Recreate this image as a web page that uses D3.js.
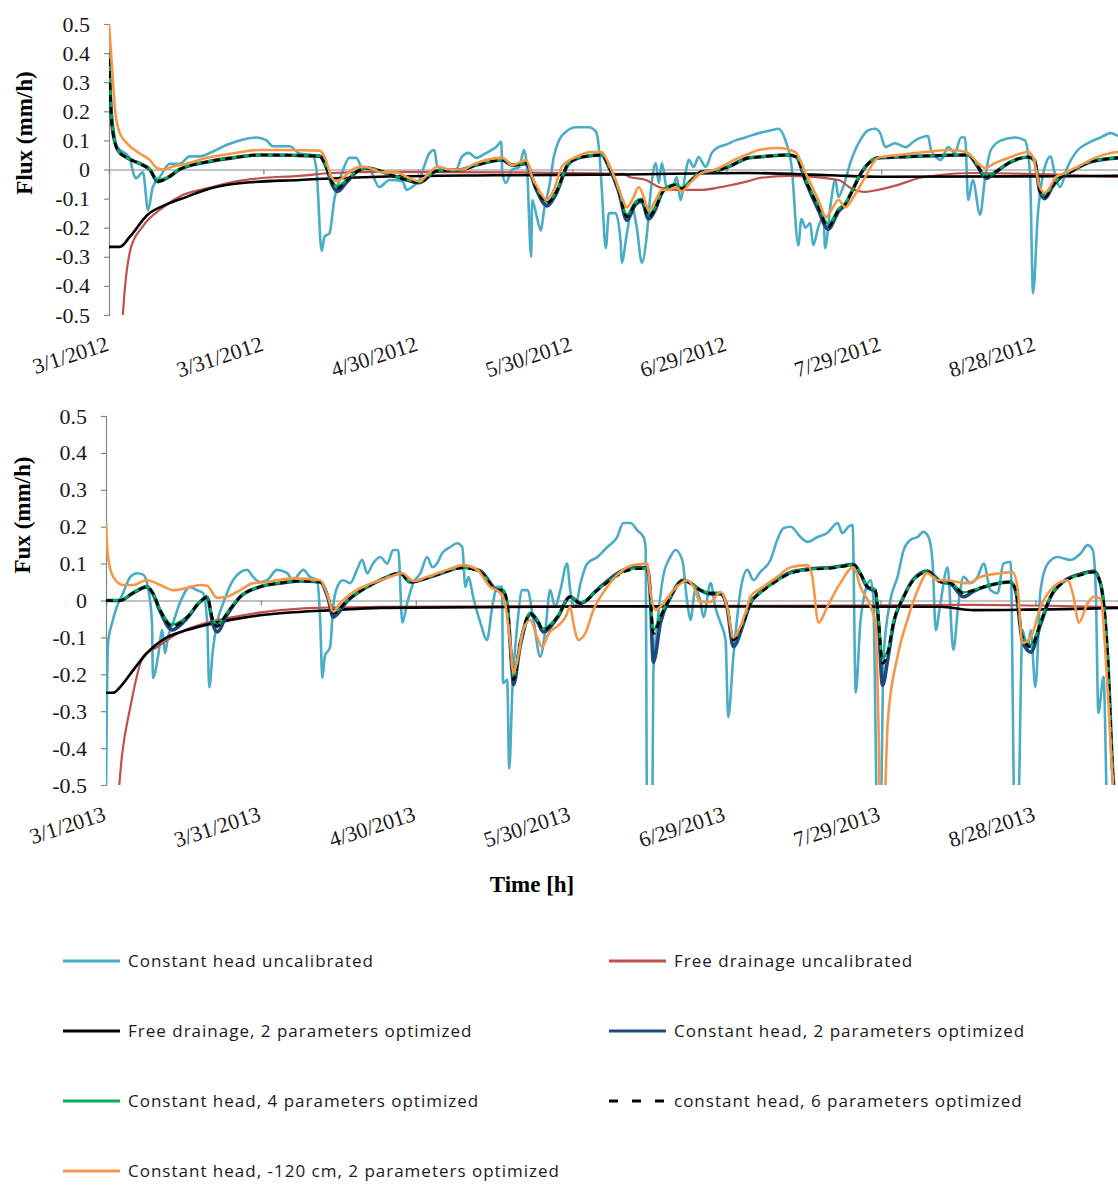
<!DOCTYPE html>
<html><head><meta charset="utf-8">
<script src="https://cdn.jsdelivr.net/npm/d3@7"></script>
<style>body{margin:0;background:#fff}svg{display:block}</style>
</head><body><svg id="c" width="1118" height="1185"></svg>
<script>
// ---------- DATA (day offset from 1 March, flux mm/h) ----------
const xTickDays = [0, 30, 60, 90, 120, 150, 180];
const xTickLabels2012 = ["3/1/2012","3/31/2012","4/30/2012","5/30/2012","6/29/2012","7/29/2012","8/28/2012"];
const xTickLabels2013 = ["3/1/2013","3/31/2013","4/30/2013","5/30/2013","6/29/2013","7/29/2013","8/28/2013"];
const yTickValues = [-0.5,-0.4,-0.3,-0.2,-0.1,0,0.1,0.2,0.3,0.4,0.5];
const yTickLabels = ["-0.5","-0.4","-0.3","-0.2","-0.1","0","0.1","0.2","0.3","0.4","0.5"];

const seriesNames = ["Constant head uncalibrated","Free drainage uncalibrated","Free drainage, 2 parameters optimized","Constant head, 2 parameters optimized","Constant head, 4 parameters optimized","constant head, 6 parameters optimized","Constant head, -120 cm, 2 parameters optimized"];

// ----- 2012 -----
const cyan2012 = [[0,0.30],[1.2,0.1],[1.5,0.08],[4,0.04],[4.7,-0.01],[5.2,-0.03],[6.6,-0.01],[7.6,-0.14],[8.5,-0.06],[9.9,-0.025],[11.8,0.02],[13.7,0.02],[15.7,0.045],[17.6,0.045],[20,0.06],[22.9,0.085],[25.4,0.1],[28.7,0.11],[30.6,0.1],[31.8,0.08],[35.1,0.08],[37,0.055],[39.5,0.05],[40.3,0],[41.3,-0.28],[41.9,-0.23],[42.8,-0.22],[43.8,-0.1],[45.3,-0.01],[46.7,0.04],[48,0.04],[49.2,0.005],[50.6,0],[52.5,-0.06],[54.5,-0.036],[57,-0.04],[57.8,-0.07],[58.9,-0.06],[60.3,-0.036],[61.2,0.01],[62.2,0.055],[63.2,0.067],[63.8,0.01],[65.1,0],[67.4,0],[68.6,0.045],[69.9,0.057],[71.3,0.04],[73.3,0.057],[75.2,0.077],[76.2,0.095],[76.4,-0.012],[77.1,-0.046],[78.3,0],[79.7,0.009],[80.6,0.067],[81.2,0.009],[82,-0.3],[82.2,-0.105],[83.1,-0.163],[83.9,-0.21],[84.5,-0.14],[85.5,-0.06],[86.4,0.043],[87.4,0.1],[88.8,0.13],[90.7,0.145],[93.2,0.145],[94.6,0.13],[95.2,0.067],[95.7,-0.06],[96.5,-0.27],[97.1,-0.15],[98.4,-0.15],[99.4,-0.25],[99.6,-0.32],[100.6,-0.22],[101.6,-0.13],[102.5,-0.197],[103.5,-0.32],[104.5,-0.22],[105.2,-0.08],[106.2,0.022],[106.8,-0.046],[107.4,0.022],[108.3,-0.06],[109.3,-0.07],[110.3,-0.026],[111,-0.105],[112,-0.012],[112.6,0.033],[113.6,0.009],[114.5,0.043],[115.9,0.009],[117.1,0.057],[118.4,0.077],[119.8,0.085],[121.7,0.1],[123.6,0.11],[126.2,0.125],[128.7,0.135],[130,0.14],[131.4,0.1],[132.6,0.01],[133.9,-0.26],[134.5,-0.17],[135.3,-0.2],[136.2,-0.184],[136.8,-0.26],[137.8,-0.197],[138.8,-0.163],[139.1,-0.27],[140.1,-0.13],[141.1,-0.035],[141.7,-0.095],[142.6,-0.06],[144.2,0.033],[145.9,0.1],[147.5,0.135],[148.8,0.14],[149.8,0.125],[150.8,0.077],[152.7,0.09],[154.7,0.077],[156.6,0.1],[159.1,0.115],[159.7,0.067],[161.6,0.033],[163,0.077],[164.3,0.057],[165.5,0.11],[166.3,0.11],[166.9,-0.105],[167.8,-0.036],[169.2,-0.155],[170.2,-0.026],[171.3,0.067],[173.3,0.1],[176,0.11],[177.9,0.1],[178.9,-0.012],[179.5,-0.425],[180.4,-0.163],[181.8,0.009],[182.9,0.045],[183.7,-0.012],[184.7,-0.06],[186.2,0.009],[188.2,0.067],[190.1,0.09],[192.6,0.11],[194.6,0.125],[196,0.115]];
const red2012 = [[2.5,-0.6],[2.7,-0.5],[4.3,-0.266],[6.5,-0.197],[10.5,-0.13],[14.3,-0.088],[19,-0.065],[24,-0.043],[29.3,-0.03],[37,-0.022],[43.4,-0.012],[52.5,-0.008],[80,-0.01],[100,-0.015],[101,-0.025],[104.3,-0.036],[106.8,-0.06],[110.1,-0.07],[115.1,-0.07],[119,-0.06],[124.2,-0.04],[126.2,-0.03],[132,-0.022],[141.7,-0.036],[144.2,-0.065],[146.9,-0.077],[149.4,-0.07],[153.3,-0.053],[157.2,-0.03],[161,-0.02],[167.4,-0.012],[196,-0.025]];
const black2012 = [[0,-0.266],[2.1,-0.266],[4.1,-0.23],[7.4,-0.157],[11.2,-0.12],[15.1,-0.094],[19.6,-0.065],[25.4,-0.047],[37,-0.036],[52.5,-0.025],[75,-0.02],[100,-0.017],[124,-0.012],[140,-0.02],[150,-0.025],[196,-0.022]];
const dashed2012 = [[0,0.38],[0.6,0.15],[1.7,0.067],[3.5,0.04],[6,0.02],[7.9,0],[9.5,-0.04],[11.2,-0.03],[13.7,0],[19,0.026],[24,0.04],[29.3,0.05],[40.9,0.046],[42.2,0.01],[43.4,-0.047],[44.4,-0.065],[46.1,-0.04],[48.1,-0.008],[50,0.005],[55.8,-0.025],[60.3,-0.045],[63.6,-0.005],[68.6,0],[71.3,0.015],[76.4,0.033],[78.3,0.015],[81,0.022],[82.9,-0.06],[85.1,-0.115],[86.8,-0.08],[89.3,0.022],[91.9,0.043],[95.7,0.05],[97.1,0.01],[99,-0.07],[100.6,-0.163],[102.3,-0.115],[103.5,-0.105],[104.8,-0.163],[106.2,-0.13],[107.4,-0.08],[108.7,-0.06],[110.1,-0.053],[111.2,-0.066],[113.2,-0.036],[115.1,-0.008],[117.8,-0.005],[120.3,0.009],[124.2,0.04],[126.2,0.043],[132,0.05],[133.5,0.043],[135.3,-0.036],[137.8,-0.13],[139.7,-0.197],[141.7,-0.14],[143,-0.12],[144.2,-0.08],[146.1,-0.012],[149.4,0.04],[153.3,0.043],[166.9,0.05],[168.8,0.01],[170.4,-0.026],[172.1,-0.01],[175.2,0.026],[178.5,0.043],[179.8,0.033],[180.8,-0.07],[181.8,-0.095],[183.3,-0.055],[184.9,-0.026],[186.8,-0.008],[190.6,0.026],[196,0.04]];
const blue2012 = [[0,0.37],[0.6,0.15],[1.7,0.067],[3.5,0.04],[6,0.02],[7.9,0],[9.5,-0.042],[11.2,-0.03],[13.7,0],[19,0.026],[24,0.04],[29.3,0.05],[40.9,0.046],[42.2,0.008],[43.4,-0.055],[44.4,-0.075],[46.1,-0.045],[48.1,-0.008],[50,0.005],[55.8,-0.025],[60.3,-0.045],[63.6,-0.005],[68.6,0],[71.3,0.015],[76.4,0.033],[78.3,0.015],[81,0.02],[82.9,-0.065],[85.1,-0.125],[86.8,-0.085],[89.3,0.02],[91.9,0.043],[95.7,0.05],[97.1,0.008],[99,-0.075],[100.6,-0.175],[102.3,-0.12],[103.5,-0.11],[104.8,-0.17],[106.2,-0.135],[107.4,-0.08],[108.7,-0.06],[110.1,-0.055],[111.2,-0.066],[113.2,-0.036],[115.1,-0.008],[117.8,-0.005],[120.3,0.009],[124.2,0.04],[126.2,0.043],[132,0.05],[133.5,0.043],[135.3,-0.04],[137.8,-0.14],[139.7,-0.205],[141.7,-0.145],[143,-0.12],[144.2,-0.08],[146.1,-0.012],[149.4,0.04],[153.3,0.043],[166.9,0.05],[168.8,0.008],[170.4,-0.03],[172.1,-0.01],[175.2,0.026],[178.5,0.043],[179.8,0.03],[180.8,-0.075],[181.8,-0.1],[183.3,-0.058],[184.9,-0.026],[186.8,-0.008],[190.6,0.026],[196,0.04]];
const green2012 = [[0,0.41],[0.6,0.16],[1.7,0.068],[3.5,0.04],[6,0.02],[7.9,0.002],[9.5,-0.036],[11.2,-0.028],[13.7,0.002],[19,0.027],[24,0.041],[29.3,0.05],[40.9,0.047],[42.2,0.012],[43.4,-0.042],[44.4,-0.058],[46.1,-0.036],[48.1,-0.006],[50,0.006],[55.8,-0.024],[60.3,-0.043],[63.6,-0.004],[68.6,0.001],[71.3,0.016],[76.4,0.034],[78.3,0.016],[81,0.023],[82.9,-0.055],[85.1,-0.108],[86.8,-0.076],[89.3,0.023],[91.9,0.044],[95.7,0.051],[97.1,0.012],[99,-0.065],[100.6,-0.155],[102.3,-0.11],[103.5,-0.1],[104.8,-0.155],[106.2,-0.125],[107.4,-0.078],[108.7,-0.058],[110.1,-0.05],[111.2,-0.063],[113.2,-0.034],[115.1,-0.006],[117.8,-0.004],[120.3,0.01],[124.2,0.041],[126.2,0.044],[132,0.051],[133.5,0.044],[135.3,-0.032],[137.8,-0.122],[139.7,-0.188],[141.7,-0.135],[143,-0.115],[144.2,-0.077],[146.1,-0.01],[149.4,0.041],[153.3,0.044],[166.9,0.051],[168.8,0.012],[170.4,-0.022],[172.1,-0.008],[175.2,0.027],[178.5,0.044],[179.8,0.035],[180.8,-0.065],[181.8,-0.088],[183.3,-0.052],[184.9,-0.024],[186.8,-0.006],[190.6,0.027],[196,0.041]];
const orange2012 = [[0,0.5],[0.6,0.35],[1.2,0.2],[2.1,0.125],[3.5,0.09],[6,0.055],[7.9,0.033],[9.3,0.005],[10.5,0],[12.4,0.01],[15.1,0.02],[19,0.04],[24,0.055],[29.3,0.067],[33.7,0.067],[40.9,0.065],[41.9,0.043],[43.2,-0.025],[44.2,-0.04],[45.3,-0.03],[47.3,0],[49.2,0.01],[50.6,0.005],[53.1,-0.01],[55.8,-0.01],[57.8,-0.025],[60.3,-0.04],[62.2,-0.012],[63.8,0.01],[66.1,0],[68.6,0],[71.3,0.022],[76.4,0.04],[78.3,0.015],[81,0.033],[82.2,-0.025],[83.5,-0.07],[85.1,-0.105],[86.4,-0.07],[88,0.01],[90.7,0.043],[93.8,0.06],[95.7,0.06],[96.7,0.033],[98.4,-0.036],[99.6,-0.095],[100.6,-0.13],[101.9,-0.095],[102.9,-0.06],[103.9,-0.095],[104.8,-0.14],[106.2,-0.105],[107.4,-0.07],[108.7,-0.07],[110.1,-0.06],[111.2,-0.075],[113.2,-0.04],[115.1,-0.012],[117.8,0],[120.3,0.022],[122.3,0.04],[124.2,0.053],[126.2,0.067],[130,0.074],[133.3,0.06],[135.3,-0.012],[137.8,-0.105],[139.3,-0.163],[140.3,-0.14],[141.7,-0.105],[143,-0.13],[144.6,-0.095],[146.9,-0.026],[149.4,0.04],[153.3,0.05],[158.5,0.06],[163.6,0.067],[166.5,0.06],[168.2,0.033],[170.2,0.005],[172.1,0.022],[175.2,0.043],[178.5,0.06],[179.5,0.043],[180.8,-0.06],[181.8,-0.08],[182.8,-0.06],[183.9,-0.026],[185.7,-0.012],[188.2,0.01],[191.5,0.04],[194.6,0.057],[196,0.06]];

// ----- 2013 -----
const cyan2013 = [[0,-0.5],[0.2,-0.24],[0.4,-0.115],[1.2,-0.06],[2.1,-0.017],[3.3,0.02],[4.7,0.064],[6,0.074],[7.2,0.07],[8.1,0.037],[8.9,-0.06],[9.1,-0.21],[10.1,-0.15],[10.9,-0.08],[11.4,-0.143],[12,-0.1],[13,-0.06],[14.3,-0.007],[16.3,0.037],[17.6,0.028],[18.8,0.02],[19.6,-0.06],[20,-0.235],[20.7,-0.134],[21.5,-0.06],[22.7,-0.007],[24.6,0.055],[27.3,0.083],[28.5,0.064],[29.8,0.05],[31.2,0.055],[33.1,0.083],[35.1,0.074],[36.2,0.055],[38.2,0.083],[39.5,0.064],[40.9,0.055],[41.5,-0.06],[41.9,-0.21],[42.4,-0.15],[43.4,-0.126],[44,-0.017],[44.8,0.037],[45.9,0.055],[47.3,0.047],[48.6,0.083],[49.6,0.11],[50.6,0.074],[51.7,0.1],[53.1,0.118],[54.5,0.1],[55.6,0.137],[56.6,0.137],[57.4,-0.06],[58.3,-0.008],[59.5,0.047],[60.9,0.074],[62.2,0.118],[63.2,0.09],[64.1,0.1],[65.1,0.128],[66.7,0.145],[68,0.155],[69,0.145],[69.6,0.037],[70.2,0.064],[71.1,0.01],[72.5,-0.06],[73.8,-0.107],[74.8,-0.017],[75.8,0.037],[76.7,0.037],[76.9,-0.224],[77.7,-0.215],[78.1,-0.455],[78.7,-0.243],[79.7,-0.06],[80.6,0.028],[81.6,0.028],[82.8,-0.053],[84.1,-0.152],[85.1,-0.08],[86,0.028],[87,-0.017],[88,0.028],[89.3,0.1],[89.9,0.028],[90.9,-0.017],[91.9,0.047],[93.2,0.1],[95.2,0.118],[97.1,0.145],[99,0.172],[100.2,0.21],[101.6,0.21],[102.9,0.19],[104.1,0.172],[104.5,0.145],[104.8,-0.6],[105.8,-0.6],[106,-0.197],[106.8,-0.06],[107.9,0.064],[109.3,0.118],[110.3,0.137],[111.6,0.11],[112.6,-0.008],[113.2,-0.053],[114.1,0.028],[115.1,0],[115.7,-0.045],[117.1,0.047],[118,-0.017],[119,-0.06],[120,-0.107],[120.5,-0.316],[121.5,-0.152],[122.9,0.028],[124.2,0.083],[125.4,0.055],[126.7,0.077],[128.7,0.11],[130,0.164],[131.2,0.196],[132.6,0.2],[134.5,0.172],[135.9,0.159],[137.8,0.172],[139.7,0.183],[141.7,0.21],[142.6,0.183],[143.8,0.2],[144.6,0.205],[145.2,-0.25],[146.1,-0.06],[147.1,0.028],[148.1,0.055],[148.6,0.01],[149.4,-0.6],[150,-0.6],[150.6,-0.152],[151.9,0],[153.3,0.064],[154.5,0.137],[155.8,0.164],[157.2,0.172],[158.3,0.186],[159.3,0.172],[160.1,0.1],[160.7,-0.08],[161.6,-0.008],[163,0.09],[164.1,-0.134],[165.1,-0.008],[166.1,0.064],[167.4,0.047],[168.8,0.064],[170,0.1],[171.3,0.028],[172.7,0.02],[173.8,0.1],[175.2,0.105],[176,-0.6],[176.6,-0.6],[177.5,-0.08],[178.5,-0.134],[179.1,-0.08],[180,-0.235],[181,0.028],[182.4,0.1],[184.3,0.118],[186.8,0.11],[188.8,0.128],[190.1,0.15],[191.1,0.137],[191.7,0.028],[192.2,-0.305],[193.2,-0.207],[194,-0.6],[196,-0.6]];
const red2013 = [[2,-0.6],[3.1,-0.42],[4.7,-0.29],[7.2,-0.152],[9.9,-0.126],[13.8,-0.09],[18.2,-0.066],[24.6,-0.045],[31.2,-0.03],[40.9,-0.02],[53.1,-0.017],[100,-0.015],[140,-0.014],[168,-0.012],[196,-0.018]];
const black2013 = [[0,-0.25],[1.4,-0.25],[2.7,-0.235],[5.2,-0.19],[7.9,-0.143],[11.8,-0.1],[15.7,-0.08],[20.7,-0.062],[27.3,-0.045],[34.3,-0.034],[44,-0.026],[53.1,-0.02],[100,-0.016],[161.6,-0.017],[168,-0.026],[196,-0.02]];
const dashed2013 = [[0,0],[2.7,0],[5.2,0.02],[7.9,0.037],[9.1,0.02],[10.5,-0.026],[12.8,-0.07],[15.7,-0.045],[18.2,-0.004],[19.6,0.01],[20.7,-0.053],[21.5,-0.07],[23.4,-0.035],[26,0.01],[29.8,0.037],[33.7,0.047],[37.6,0.053],[41.5,0.05],[43,0.01],[44,-0.035],[46.7,0],[50.6,0.037],[53.1,0.055],[57,0.074],[58.9,0.05],[64.1,0.07],[69.2,0.088],[72.5,0.077],[75.8,0.028],[76.9,0.028],[77.7,-0.008],[78.7,-0.19],[78.9,-0.215],[80.2,-0.115],[82.2,-0.035],[83.5,-0.053],[84.7,-0.08],[87.4,-0.045],[89.9,0.01],[91.9,-0.008],[95.2,0.028],[97.7,0.055],[100.2,0.077],[102.9,0.086],[104.8,0.086],[105.4,0.028],[106,-0.09],[107.4,-0.045],[109.3,0.01],[111.8,0.055],[113.2,0.047],[115.1,0.028],[117.1,0.02],[119,0.02],[120.3,-0.017],[121.5,-0.107],[123.4,-0.06],[124.8,-0.008],[126.7,0.02],[129.3,0.047],[132.6,0.074],[135.9,0.083],[140.9,0.088],[144.8,0.096],[146.1,0.074],[147.5,0.037],[149,0.028],[149.6,-0.045],[150.4,-0.17],[151.4,-0.143],[152.5,-0.06],[154.5,0.01],[156.4,0.055],[159.1,0.077],[161.6,0.05],[163.6,0.047],[166.1,0.02],[168,0.028],[171.3,0.042],[175.2,0.05],[176.2,0.028],[177.5,-0.1],[179.1,-0.126],[181,-0.06],[182.9,0.01],[185.5,0.05],[188.8,0.069],[191.3,0.077],[192.6,0.047],[194,-0.152],[195,-0.47],[196,-0.6]];
const blue2013 = [[0,0],[2.7,0],[5.2,0.02],[7.9,0.037],[9.1,0.018],[10.5,-0.03],[12.8,-0.08],[15.7,-0.048],[18.2,-0.004],[19.6,0.008],[20.7,-0.065],[21.5,-0.085],[23.4,-0.04],[26,0.01],[29.8,0.037],[33.7,0.047],[37.6,0.053],[41.5,0.05],[43,0.006],[44,-0.045],[46.7,-0.002],[50.6,0.037],[53.1,0.055],[57,0.074],[58.9,0.05],[64.1,0.07],[69.2,0.09],[72.5,0.08],[75.8,0.028],[76.9,0.026],[77.7,-0.012],[78.7,-0.2],[78.9,-0.228],[80.2,-0.125],[82.2,-0.038],[83.5,-0.056],[84.7,-0.085],[87.4,-0.047],[89.9,0.01],[91.9,-0.008],[95.2,0.03],[97.7,0.06],[100.2,0.082],[102.9,0.09],[104.8,0.088],[105.4,0.02],[106,-0.167],[107.4,-0.06],[109.3,0.008],[111.8,0.055],[113.2,0.047],[115.1,0.028],[117.1,0.018],[119,0.018],[120.3,-0.02],[121.5,-0.125],[123.4,-0.065],[124.8,-0.008],[126.7,0.022],[129.3,0.05],[132.6,0.076],[135.9,0.085],[140.9,0.09],[144.8,0.098],[146.1,0.072],[147.5,0.035],[149,0.025],[149.6,-0.06],[150.4,-0.23],[151.4,-0.16],[152.5,-0.065],[154.5,0.01],[156.4,0.058],[159.1,0.08],[161.6,0.052],[163.6,0.045],[166.1,0.01],[168,0.025],[171.3,0.042],[175.2,0.05],[176.2,0.025],[177.5,-0.11],[179.1,-0.14],[181,-0.065],[182.9,0.008],[185.5,0.052],[188.8,0.072],[191.3,0.08],[192.6,0.047],[194,-0.155],[195,-0.47],[196,-0.6]];
const green2013 = [[0,0.001],[2.7,0.001],[5.2,0.021],[7.9,0.038],[9.1,0.021],[10.5,-0.024],[12.8,-0.065],[15.7,-0.043],[18.2,-0.002],[19.6,0.011],[20.7,-0.05],[21.5,-0.066],[23.4,-0.033],[26,0.011],[29.8,0.038],[33.7,0.048],[37.6,0.054],[41.5,0.051],[43,0.012],[44,-0.032],[46.7,0.001],[50.6,0.038],[53.1,0.056],[57,0.075],[58.9,0.051],[64.1,0.071],[69.2,0.089],[72.5,0.078],[75.8,0.029],[76.9,0.029],[77.7,-0.006],[78.7,-0.185],[78.9,-0.208],[80.2,-0.11],[82.2,-0.033],[83.5,-0.05],[84.7,-0.076],[87.4,-0.043],[89.9,0.011],[91.9,-0.006],[95.2,0.029],[97.7,0.056],[100.2,0.078],[102.9,0.087],[104.8,0.087],[105.4,0.03],[106,-0.08],[107.4,-0.04],[109.3,0.012],[111.8,0.056],[113.2,0.048],[115.1,0.029],[117.1,0.021],[119,0.021],[120.3,-0.015],[121.5,-0.1],[123.4,-0.057],[124.8,-0.006],[126.7,0.021],[129.3,0.048],[132.6,0.075],[135.9,0.084],[140.9,0.089],[144.8,0.097],[146.1,0.075],[147.5,0.038],[149,0.03],[149.6,-0.04],[150.4,-0.155],[151.4,-0.135],[152.5,-0.056],[154.5,0.011],[156.4,0.056],[159.1,0.078],[161.6,0.051],[163.6,0.048],[166.1,0.022],[168,0.029],[171.3,0.043],[175.2,0.051],[176.2,0.03],[177.5,-0.095],[179.1,-0.12],[181,-0.057],[182.9,0.011],[185.5,0.051],[188.8,0.07],[191.3,0.078],[192.6,0.048],[194,-0.15],[195,-0.47],[196,-0.6]];
const orange2013 = [[0,0.21],[0.4,0.118],[1.4,0.064],[3.3,0.042],[5.2,0.042],[7.9,0.055],[10.5,0.042],[13,0.028],[15.7,0.034],[18.2,0.042],[19.6,0.04],[21.5,0.007],[23.4,0.01],[26,0.028],[28.5,0.047],[31.2,0.05],[36.2,0.06],[41.5,0.055],[43,0.01],[44,-0.03],[45.3,-0.008],[47.9,0.023],[50.6,0.042],[53.1,0.055],[55,0.064],[57.4,0.074],[59.5,0.053],[62.2,0.064],[66.1,0.083],[69.2,0.096],[71.9,0.083],[74.4,0.037],[76.4,0.02],[77.3,-0.008],[78.3,-0.115],[78.9,-0.197],[79.8,-0.152],[80.8,-0.08],[82.2,-0.053],[83.5,-0.1],[84.5,-0.126],[85.7,-0.09],[87.4,-0.07],[89,-0.045],[89.9,-0.017],[90.5,-0.06],[91.5,-0.107],[92.8,-0.09],[94.4,-0.026],[97.1,0.037],[99.6,0.077],[102.1,0.096],[104.8,0.1],[105.4,0.028],[106.4,-0.026],[107.9,-0.008],[109.9,0.028],[112.6,0.055],[113.8,0.037],[115.1,-0.004],[117.1,-0.004],[119,0.023],[120.3,-0.017],[121.5,-0.1],[122.9,-0.07],[124.2,-0.017],[124.8,0.01],[127.3,0.037],[130,0.064],[132.6,0.09],[135.9,0.096],[136.8,0.064],[138,-0.06],[139.7,-0.017],[142.2,0.047],[144.8,0.09],[146.1,0.037],[148.1,-0.017],[149,-0.06],[149.6,-0.33],[150,-0.6],[150.6,-0.6],[151.4,-0.33],[153.3,-0.152],[155.2,-0.053],[157.2,0.028],[159.1,0.074],[161,0.055],[163,0.055],[164.9,0.05],[166.9,0.047],[169.4,0.064],[173.3,0.074],[175.6,0.077],[176.6,0.028],[177.5,-0.115],[179.1,-0.1],[181,-0.017],[183.5,0.037],[186.2,0.055],[187.4,0.01],[188.4,-0.06],[190.1,-0.008],[191.3,0.01],[192.6,0.005],[194,-0.243],[195,-0.49],[196,-0.6]];

// ---------- STYLE ----------
const styles = [
  {color:"#4BACC6", width:2.6, dash:null},
  {color:"#C0504D", width:2.2, dash:null},
  {color:"#000000", width:2.6, dash:null},
  {color:"#1F497D", width:3.6, dash:null},
  {color:"#00B050", width:2.4, dash:null},
  {color:"#000000", width:2.6, dash:"7,5"},
  {color:"#F79646", width:2.6, dash:null}
];

const svg = d3.select("#c");
const serif = "'Liberation Serif','Times New Roman',serif";

function panel(cfg){
  const x = d3.scaleLinear().domain([0,196]).range([cfg.left, 1118]);
  const y = d3.scaleLinear().domain([-0.5,0.5]).range([cfg.bottom, cfg.top]);
  const g = svg.append("g");
  const clipId = "clip"+cfg.id;
  svg.append("defs").append("clipPath").attr("id",clipId).append("rect")
    .attr("x",cfg.left).attr("y",cfg.top-2).attr("width",1118-cfg.left).attr("height",cfg.bottom-cfg.top+2);

  const ya = d3.axisLeft(y).tickValues(yTickValues).tickSize(5).tickPadding(14)
     .tickFormat((d,i)=>yTickLabels[i]);
  const yg = g.append("g").attr("transform",`translate(${cfg.left},0)`).call(ya);
  yg.select(".domain").attr("stroke","#868686").attr("stroke-width",1.2);
  yg.selectAll(".tick line").attr("stroke","#868686").attr("stroke-width",1.2);
  yg.selectAll(".tick text").attr("font-family",serif).attr("font-size",22).attr("fill","#1a1a1a");

  const xa = d3.axisBottom(x).tickValues(xTickDays).tickSize(5).tickFormat("");
  const xg = g.append("g").attr("transform",`translate(0,${y(0)})`).call(xa);
  xg.select(".domain").attr("stroke","#868686").attr("stroke-width",1.2);
  xg.selectAll(".tick line").attr("stroke","#868686").attr("stroke-width",1.2);

  g.selectAll(".xl").data(xTickDays).enter().append("text")
    .attr("transform",d=>`translate(${x(d)+1},${cfg.bottom+35}) rotate(-18)`)
    .attr("text-anchor","end").attr("font-family",serif).attr("font-size",22).attr("fill","#1a1a1a")
    .text((d,i)=>cfg.xLabels[i]);

  g.append("text").attr("transform",`translate(${cfg.titleX},${cfg.titleY}) rotate(-90)`)
    .attr("text-anchor","middle").attr("font-family",serif).attr("font-weight","bold").attr("font-size",23)
    .attr("fill","#000").text(cfg.yTitle);

  const line = d3.line().x(d=>x(d[0])).y(d=>y(d[1])).curve(d3.curveMonotoneX);
  const lg = g.append("g").attr("clip-path",`url(#${clipId})`);
  cfg.series.forEach((s,i)=>{
    lg.append("path").datum(s).attr("d",line).attr("fill","none")
      .attr("stroke",styles[i].color).attr("stroke-width",styles[i].width)
      .attr("stroke-linejoin","round").attr("stroke-linecap","butt")
      .attr("stroke-dasharray",styles[i].dash);
  });
}

panel({id:1, left:109, top:24, bottom:315, xLabels:xTickLabels2012, yTitle:"Flux (mm/h)", titleX:32, titleY:133,
  series:[cyan2012,red2012,black2012,blue2012,green2012,dashed2012,orange2012]});
panel({id:2, left:106, top:416, bottom:785, xLabels:xTickLabels2013, yTitle:"Fux (mm/h)", titleX:30, titleY:515,
  series:[cyan2013,red2013,black2013,blue2013,green2013,dashed2013,orange2013]});

svg.append("text").attr("x",532).attr("y",892).attr("text-anchor","middle")
  .attr("font-family",serif).attr("font-weight","bold").attr("font-size",23).text("Time [h]");

const legendOrder = [0,1,2,3,4,5,6];
const lgd = svg.append("g");
legendOrder.forEach((si,k)=>{
  const col = k%2, row = Math.floor(k/2);
  const lx = col===0 ? 63 : 609;
  const ly = 961 + row*70;
  lgd.append("line").attr("x1",lx).attr("x2",lx+57).attr("y1",ly).attr("y2",ly)
    .attr("stroke",styles[si].color).attr("stroke-width",3)
    .attr("stroke-dasharray",si===5 ? "9,14" : null);
  lgd.append("text").attr("x",lx+65).attr("y",ly).attr("dy","0.35em")
    .attr("font-family","'Open Sans','Noto Sans',sans-serif").attr("font-size",17)
    .attr("letter-spacing","1px").attr("fill","#1a1a1a")
    .text(seriesNames[si]);
});
</script></body></html>
